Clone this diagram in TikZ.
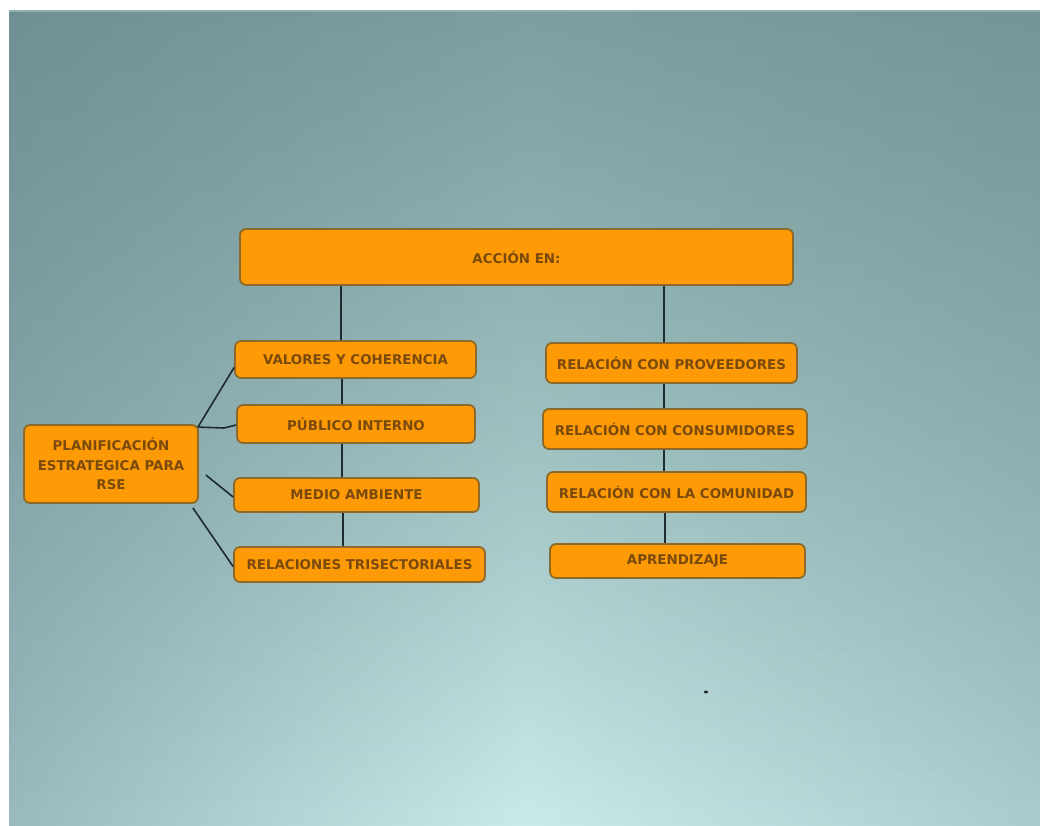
\documentclass[tikz,border=0pt]{standalone}
\usepackage{fontspec}
\setmainfont{DejaVu Sans}
\usetikzlibrary{fadings}
\definecolor{boxfill}{HTML}{FD9A05}
\definecolor{boxedge}{HTML}{8C6A2C}
\definecolor{boxtext}{HTML}{7A4A0C}
\definecolor{linec}{HTML}{1E2B30}
\definecolor{bgtop}{HTML}{8EB0AE}
\definecolor{bgbot}{HTML}{CCECEB}
\definecolor{bgedge}{HTML}{5E8088}
\tikzfading[name=sidefade, left color=transparent!55, right color=transparent!70, middle color=transparent!100]
\tikzfading[name=topfade, top color=transparent!65, bottom color=transparent!100]
\tikzset{
  box/.style={draw=boxedge, line width=1.8pt, fill=boxfill, rounded corners=6pt,
    text=boxtext, font=\bfseries\fontsize{13.4}{19.5}\selectfont, align=center, inner sep=2pt},
  link/.style={draw=linec, line width=1.6pt}
}
\begin{document}
\begin{tikzpicture}[x=1pt, y=-1pt]
% page and background panel
\useasboundingbox (0,0) rectangle (1040,826);
\fill[white] (0,0) rectangle (1040,826);
\begin{scope}
\clip (9,11) rectangle (1040,826);
\shade[top color=bgtop, bottom color=bgbot] (9,11) rectangle (1045,830);
\fill[bgedge, path fading=sidefade] (9,11) rectangle (1045,830);
\fill[bgedge, path fading=topfade] (9,11) rectangle (1045,830);
\end{scope}

% column positions for the vertical connectors
\coordinate (colL) at (341,0);
\coordinate (colR) at (664,0);

% boxes
\node[box, minimum width=553pt, minimum height=56pt] (acc) at (516.5,257) {ACCIÓN EN:};

\node[box, minimum width=241pt, minimum height=37pt] (val) at (355.5,359.5) {VALORES Y COHERENCIA};
\node[box, minimum width=238pt, minimum height=38pt] (pub) at (356,424) {PÚBLICO INTERNO};
\node[box, minimum width=245pt, minimum height=34pt] (med) at (356.5,495) {MEDIO AMBIENTE};
\node[box, minimum width=251pt, minimum height=35pt] (rel) at (359.5,564.5) {RELACIONES TRISECTORIALES};

\node[box, minimum width=174pt, minimum height=78pt] (plan) at (111,464)
  {PLANIFICACIÓN\\ESTRATEGICA PARA\\RSE};

\node[box, minimum width=251pt, minimum height=40pt] (prov) at (671.5,363) {RELACIÓN CON PROVEEDORES};
\node[box, minimum width=264pt, minimum height=40pt] (cons) at (675,429) {RELACIÓN CON CONSUMIDORES};
\node[box, minimum width=259pt, minimum height=40pt] (com) at (676.5,492) {RELACIÓN CON LA COMUNIDAD};
\node[box, minimum width=255pt, minimum height=34pt] (apr) at (677.5,561) {APRENDIZAJE};

% vertical connectors, left column
\draw[link] (acc.south -| colL) -- (val.north -| colL);
\draw[link] ([xshift=1pt]val.south -| colL) -- ([xshift=1pt]pub.north -| colL);
\draw[link] ([xshift=1pt]pub.south -| colL) -- ([xshift=1pt]med.north -| colL);
\draw[link] ([xshift=2pt]med.south -| colL) -- ([xshift=2pt]rel.north -| colL);

% vertical connectors, right column
\draw[link] (acc.south -| colR) -- (prov.north -| colR);
\draw[link] (prov.south -| colR) -- (cons.north -| colR);
\draw[link] (cons.south -| colR) -- (com.north -| colR);
\draw[link] ([xshift=1pt]com.south -| colR) -- ([xshift=1pt]apr.north -| colR);

% planning connectors
\draw[link] ([shift={(-1pt,-3pt)}]plan.north east) -- ([yshift=-8pt]val.west);
\draw[link] ([shift={(-1pt,-3pt)}]plan.north east) -- ([xshift=-12pt,yshift=-4pt]pub.west) -- ([yshift=-1pt]pub.west);
\draw[link] ([shift={(7pt,-11pt)}]plan.east) -- ([yshift=-2pt]med.west);
\draw[link] ([shift={(-6pt,-4pt)}]plan.south east) -- ([yshift=-2pt]rel.west);

% small mark
\fill[linec] (706,692) ellipse (2.2pt and 1.4pt);
\end{tikzpicture}
\end{document}
